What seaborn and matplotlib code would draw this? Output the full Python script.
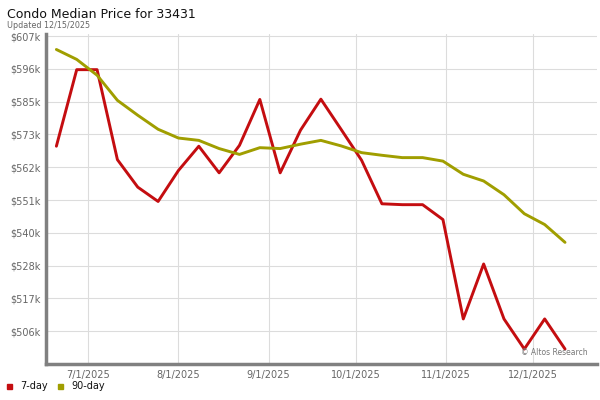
import matplotlib
matplotlib.use("Agg")
import matplotlib.pyplot as plt
import seaborn as sns
import pandas as pd
from matplotlib.patches import Rectangle

# ---- data ----
dates = pd.date_range("2025-06-20", "2025-12-12", freq="7D")
seven_day = [569.3, 595.5, 595.5, 564.7, 555.3, 550.4, 561.0, 569.3, 560.2, 569.6,
             585.3, 560.2, 574.8, 585.4, 575.0, 564.5, 549.6, 549.3, 549.3, 544.2,
             510.2, 529.0, 510.2, 499.9, 510.2, 499.9]
ninety_day = [602.4, 599.0, 593.6, 585.0, 579.9, 575.1, 572.1, 571.3, 568.5, 566.5,
              568.8, 568.5, 570.0, 571.3, 569.4, 567.1, 566.2, 565.4, 565.4, 564.2,
              559.7, 557.4, 552.7, 546.2, 542.5, 536.4]
series_names = ["7-day", "90-day"]
series_colors = ["#c40d10", "#a09e00"]
y_ticks_k = [506, 517.22, 528.44, 539.67, 550.89, 562.11, 573.33, 584.56, 595.78, 607]
y_tick_labels = ["$506k", "$517k", "$528k", "$540k", "$551k", "$562k", "$573k", "$585k", "$596k", "$607k"]
x_tick_dates = pd.to_datetime(["2025-07-01", "2025-08-01", "2025-09-01", "2025-10-01", "2025-11-01", "2025-12-01"])
x_tick_labels = ["7/1/2025", "8/1/2025", "9/1/2025", "10/1/2025", "11/1/2025", "12/1/2025"]
title = "Condo Median Price for 33431"
subtitle = "Updated 12/15/2025"

df = pd.DataFrame({
    "date": list(dates) * 2,
    "value": seven_day + ninety_day,
    "series": [series_names[0]] * len(dates) + [series_names[1]] * len(dates),
})

sns.set_style("white")
plt.rcParams["font.family"] = ["DejaVu Sans"]

fig = plt.figure(figsize=(6, 4), dpi=100)
ax = fig.add_axes([0.077, 0.09, 0.918, 0.825])

sns.lineplot(data=df, x="date", y="value", hue="series", palette=series_colors,
             hue_order=series_names, linewidth=2.1, ax=ax, legend=False)

ax.set_ylim(494.78, 607.7)
ax.set_xlim(pd.Timestamp("2025-06-16 12:00"), pd.Timestamp("2025-12-23"))
ax.set_yticks(y_ticks_k)
ax.set_yticklabels(y_tick_labels)
ax.set_xticks(x_tick_dates)
ax.set_xticklabels(x_tick_labels)
ax.grid(True, color="#dcdcdc", linewidth=0.8)
ax.set_axisbelow(True)
ax.tick_params(axis="both", length=0, labelsize=7, colors="#666666", pad=4)
ax.set_xlabel("")
ax.set_ylabel("")
for s in ["top", "right"]:
    ax.spines[s].set_visible(False)
for s in ["left", "bottom"]:
    ax.spines[s].set_color("#808080")
    ax.spines[s].set_linewidth(2.5)

ax.text(0.983, 0.02, "\u00a9 Altos Research", transform=ax.transAxes, ha="right", va="bottom",
        fontsize=5.5, color="#777777")

fig.text(0.012, 0.965, title, fontsize=9, color="#111111", ha="left", va="center")
fig.text(0.012, 0.937, subtitle, fontsize=5.8, color="#666666", ha="left", va="center")

# legend
lx = [0.012, 0.097]
for x0, name, col in zip(lx, series_names, series_colors):
    fig.patches.append(Rectangle((x0, 0.028), 0.0085, 0.0125, transform=fig.transFigure,
                                 color=col, figure=fig))
    fig.text(x0 + 0.022, 0.034, name, fontsize=7, color="#111111", ha="left", va="center")

fig.savefig("out.png", dpi=100)
